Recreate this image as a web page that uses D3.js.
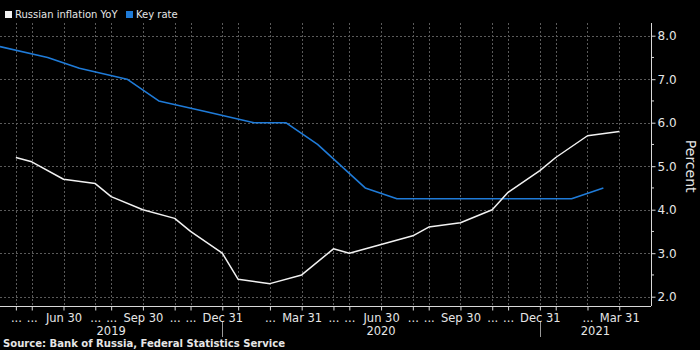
<!DOCTYPE html>
<html>
<head>
<meta charset="utf-8">
<script src="https://cdn.jsdelivr.net/npm/d3@7"></script>
<style>
  html, body { margin: 0; padding: 0; background: #000; }
  svg { display: block; }
  text { font-family: "DejaVu Sans", sans-serif; }
</style>
</head>
<body>
<svg id="chart" width="700" height="350"></svg>
<script>
// ---- DATA ----
// The axis is divided into equal periods (5 per quarter); each observation sits on a period index.
const periodCount = 41; // last period index (right edge)

// Month-end ticks (period index, label, full date)
const monthDates = ["2019-04-30","2019-05-31","2019-06-30","2019-07-31","2019-08-31","2019-09-30",
  "2019-10-31","2019-11-30","2019-12-31","2020-01-31","2020-02-29","2020-03-31",
  "2020-04-30","2020-05-31","2020-06-30","2020-07-31","2020-08-31","2020-09-30",
  "2020-10-31","2020-11-30","2020-12-31","2021-01-31","2021-02-28","2021-03-31"];
const monthPeriods = [1,2,4,6,7,9,11,12,14,15,17,19,21,22,24,26,27,29,31,32,34,35,37,39];
const monthLabels = ["...","...","Jun 30","...","...","Sep 30","...","...","Dec 31","","...","Mar 31",
  "...","...","Jun 30","...","...","Sep 30","...","...","Dec 31","","...","Mar 31"];

// Russian inflation YoY (%) at each month end
const inflation = [5.2,5.1,4.7,4.6,4.3,4.0,3.8,3.5,3.0,2.4,2.3,2.5,
  3.1,3.0,3.2,3.4,3.6,3.7,4.0,4.4,4.9,5.2,5.7,5.8];

// Key rate (%) at policy meeting dates
const keyRatePeriods = [0,3,5,8,10,13,16,18,20,23,25,36,38];
const keyRate = [7.75,7.5,7.25,7.0,6.5,6.25,6.0,6.0,5.5,4.5,4.25,4.25,4.5];

// Years and the Dec 31 ticks that separate them
const years = ["2019","2020","2021"];
const yearSeparators = [14,34];

const yTicks = [2,3,4,5,6,7,8];
const yMinorTicks = [2.5,3.5,4.5,5.5,6.5,7.5];

// ---- LAYOUT ----
const W = 700, H = 350;
const plot = { left: 0, right: 651, top: 23, bottom: 306 };
const svg = d3.select("#chart");
svg.append("rect").attr("width", W).attr("height", H).attr("fill", "#000");

const x = d3.scaleLinear().domain([0, periodCount]).range([plot.left, plot.right]);
const y = d3.scaleLinear().domain([1.786, 8.292]).range([plot.bottom, plot.top]);

const gridColor = "#5a5a5a";
const axisColor = "#d8d8d8";
const textColor = "#e6e6e6";

// Horizontal gridlines
svg.append("g").selectAll("line").data(yTicks).join("line")
  .attr("x1", plot.left).attr("x2", plot.right)
  .attr("y1", d => Math.round(y(d)) + 0.5).attr("y2", d => Math.round(y(d)) + 0.5)
  .attr("stroke", gridColor).attr("stroke-width", 1)
  .attr("stroke-dasharray", "2,2");

// Vertical gridlines at month ends
svg.append("g").selectAll("line").data(monthPeriods).join("line")
  .attr("x1", d => Math.round(x(d)) + 0.5).attr("x2", d => Math.round(x(d)) + 0.5)
  .attr("y1", plot.top).attr("y2", plot.bottom)
  .attr("stroke", gridColor).attr("stroke-width", 1)
  .attr("stroke-dasharray", "2,2");

// Lines
const lineGen = d3.line().x(d => x(d[0])).y(d => y(d[1]));
const keyData = keyRatePeriods.map((p, i) => [p, keyRate[i]]);
const infData = monthPeriods.map((p, i) => [p, inflation[i]]);

svg.append("path").datum(keyData).attr("d", lineGen)
  .attr("fill", "none").attr("stroke", "#1f7bd8").attr("stroke-width", 1.6)
  .attr("stroke-linejoin", "round");
svg.append("path").datum(infData).attr("d", lineGen)
  .attr("fill", "none").attr("stroke", "#f2f2f2").attr("stroke-width", 1.5)
  .attr("stroke-linejoin", "round");

// Right axis
const yAxis = d3.axisRight(y).tickValues(yTicks).tickFormat(d3.format(".1f")).tickSize(4).tickPadding(2);
const yg = svg.append("g").attr("transform", `translate(${plot.right + 0.5},0)`).call(yAxis);
yg.select(".domain").attr("stroke", axisColor).attr("d", `M0,${plot.top}V${plot.bottom}`);
yg.selectAll(".tick line").attr("stroke", axisColor);
yg.selectAll(".tick text").attr("fill", textColor).attr("font-size", 12)
  .attr("font-family", "DejaVu Sans, sans-serif");
// minor ticks
svg.append("g").selectAll("line").data(yMinorTicks).join("line")
  .attr("x1", plot.right).attr("x2", plot.right + 3)
  .attr("y1", d => y(d)).attr("y2", d => y(d))
  .attr("stroke", axisColor);

// Percent title
svg.append("text")
  .attr("transform", `translate(686,${y(5.0)}) rotate(90)`)
  .attr("text-anchor", "middle")
  .attr("fill", textColor).attr("font-size", 14)
  .text("Percent");

// Bottom axis
const xAxis = d3.axisBottom(x).tickValues(monthPeriods)
  .tickFormat((d, i) => monthLabels[i]).tickSize(4).tickPadding(3);
const xg = svg.append("g").attr("transform", `translate(0,${plot.bottom + 0.5})`).call(xAxis);
xg.select(".domain").attr("stroke", axisColor).attr("d", `M${plot.left},0H${plot.right}`);
xg.selectAll(".tick line").attr("stroke", axisColor);
xg.selectAll(".tick text").attr("fill", textColor).attr("font-size", 11.5)
  .attr("font-family", "DejaVu Sans, sans-serif");

// Year labels and separators
const yearBounds = [plot.left, ...yearSeparators.map(p => x(p)), plot.right];
svg.append("g").selectAll("text").data(years).join("text")
  .attr("x", (d, i) => (yearBounds[i] + yearBounds[i + 1]) / 2)
  .attr("y", 335)
  .attr("text-anchor", "middle")
  .attr("fill", textColor).attr("font-size", 11.5)
  .text(d => d);
svg.append("g").selectAll("line").data(yearSeparators).join("line")
  .attr("x1", d => Math.round(x(d)) + 0.5).attr("x2", d => Math.round(x(d)) + 0.5)
  .attr("y1", 322).attr("y2", 337)
  .attr("stroke", "#9a9a9a");

// Legend
const legend = [
  { label: "Russian inflation YoY", color: "#f2f2f2", x: 5 },
  { label: "Key rate", color: "#1f7bd8", x: 126 }
];
const lg = svg.append("g").selectAll("g").data(legend).join("g")
  .attr("transform", d => `translate(${d.x},11)`);
lg.append("rect").attr("width", 7).attr("height", 7).attr("fill", d => d.color);
lg.append("text").attr("x", 10).attr("y", 6.5)
  .attr("fill", textColor).attr("font-size", 10).text(d => d.label);

// Source
svg.append("text")
  .attr("x", 3).attr("y", 347)
  .attr("fill", textColor).attr("font-size", 10).attr("font-weight", "bold")
  .attr("textLength", 282).attr("lengthAdjust", "spacingAndGlyphs")
  .text("Source: Bank of Russia, Federal Statistics Service");
</script>
</body>
</html>
